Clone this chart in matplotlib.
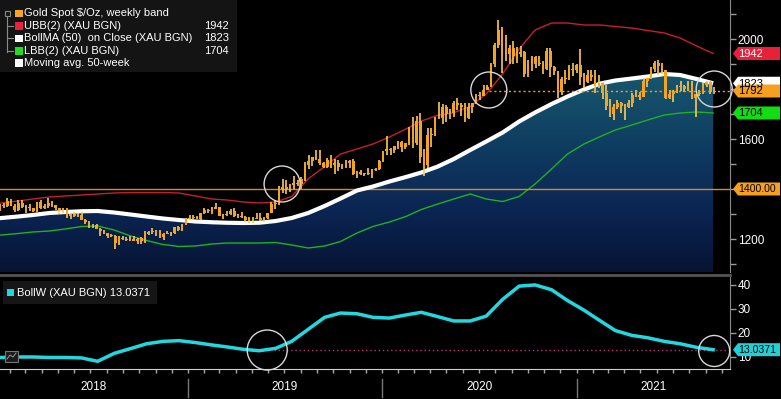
import numpy as np
import pandas as pd
import matplotlib
matplotlib.use('Agg')
import matplotlib.pyplot as plt
import matplotlib.dates as mdates
import matplotlib.transforms as mtrans
from matplotlib.colors import LinearSegmentedColormap
from matplotlib.patches import Polygon, Rectangle
from matplotlib.lines import Line2D

plt.rcParams['font.family'] = ['Liberation Sans', 'DejaVu Sans']

# Weekly gold spot bars (Friday dates), Jan 2018 - mid Sep 2021
first_open = 1322
close_2018 = [1338, 1332, 1352, 1333, 1316, 1346, 1330, 1323, 1324, 1314, 1347, 1325, 1332, 1345, 1336, 1323, 1315,
              1320, 1291, 1302, 1294, 1298, 1278, 1269, 1252, 1256, 1241, 1231, 1223, 1214, 1212, 1184, 1206, 1201,
              1197, 1194, 1199, 1192, 1203, 1222, 1227, 1233, 1233, 1209, 1222, 1223, 1223, 1248, 1238, 1257, 1281]
high_2018 = [1340, 1344, 1366, 1361, 1340, 1355, 1358, 1337, 1340, 1325, 1350, 1356, 1339, 1365, 1353, 1338, 1326,
             1326, 1325, 1306, 1307, 1303, 1309, 1282, 1272, 1262, 1259, 1245, 1236, 1226, 1221, 1215, 1214, 1214,
             1207, 1212, 1211, 1204, 1207, 1233, 1233, 1243, 1238, 1237, 1225, 1231, 1229, 1250, 1254, 1261, 1284]
low_2018 = [1313, 1326, 1328, 1331, 1307, 1312, 1323, 1303, 1313, 1307, 1310, 1321, 1321, 1326, 1330, 1316, 1302,
            1306, 1286, 1281, 1289, 1290, 1276, 1261, 1246, 1245, 1239, 1211, 1221, 1204, 1207, 1160, 1178, 1196,
            1191, 1191, 1193, 1180, 1182, 1184, 1218, 1221, 1211, 1206, 1196, 1220, 1213, 1221, 1233, 1233, 1256]

close_2019 = [1285, 1290, 1282, 1304, 1318, 1314, 1322, 1328, 1294, 1298, 1302, 1312, 1292, 1291, 1290, 1275, 1286,
              1281, 1286, 1277, 1284, 1305, 1341, 1341, 1400, 1409, 1399, 1415, 1426, 1419, 1440, 1497, 1513, 1527,
              1520, 1506, 1488, 1517, 1497, 1505, 1489, 1490, 1505, 1514, 1459, 1468, 1462, 1464, 1460, 1476, 1479, 1511]
high_2019 = [1298, 1295, 1294, 1305, 1326, 1319, 1327, 1346, 1330, 1299, 1311, 1320, 1324, 1300, 1310, 1292, 1288,
             1288, 1303, 1304, 1288, 1306, 1348, 1358, 1411, 1439, 1438, 1420, 1453, 1435, 1448, 1510, 1535, 1530,
             1555, 1557, 1510, 1523, 1535, 1519, 1517, 1502, 1518, 1516, 1519, 1474, 1477, 1464, 1484, 1480, 1485, 1515]
low_2019 = [1276, 1279, 1281, 1276, 1299, 1303, 1302, 1319, 1291, 1281, 1291, 1296, 1287, 1284, 1285, 1270, 1266,
            1266, 1279, 1273, 1270, 1280, 1303, 1320, 1336, 1383, 1382, 1387, 1400, 1411, 1400, 1434, 1480, 1491,
            1518, 1497, 1485, 1484, 1485, 1459, 1474, 1480, 1483, 1485, 1456, 1446, 1456, 1452, 1458, 1445, 1474, 1477]

close_2020 = [1552, 1562, 1557, 1571, 1589, 1570, 1584, 1643, 1585, 1674, 1530, 1498, 1617, 1620, 1683, 1683, 1727,
              1700, 1703, 1743, 1735, 1730, 1684, 1730, 1743, 1771, 1774, 1798, 1810, 1902, 1975, 2035, 1944, 1940,
              1964, 1934, 1940, 1950, 1862, 1900, 1930, 1899, 1902, 1879, 1951, 1889, 1871, 1788, 1839, 1840, 1882, 1877]
high_2020 = [1553, 1611, 1564, 1573, 1591, 1592, 1584, 1649, 1689, 1692, 1703, 1560, 1644, 1645, 1690, 1747, 1739,
             1738, 1722, 1751, 1765, 1745, 1745, 1745, 1745, 1779, 1789, 1818, 1815, 1906, 1984, 2075, 2049, 2015,
             1976, 1993, 1967, 1973, 1951, 1917, 1933, 1933, 1932, 1911, 1965, 1965, 1892, 1872, 1848, 1875, 1896, 1906]
low_2020 = [1508, 1536, 1536, 1546, 1562, 1548, 1561, 1577, 1563, 1576, 1504, 1451, 1484, 1567, 1611, 1680, 1659,
            1669, 1681, 1688, 1716, 1694, 1670, 1679, 1705, 1742, 1757, 1771, 1795, 1808, 1890, 1964, 1863, 1912,
            1902, 1902, 1906, 1928, 1849, 1848, 1873, 1883, 1891, 1860, 1875, 1850, 1855, 1765, 1775, 1820, 1836, 1854]

close_2021 = [1898, 1850, 1828, 1856, 1847, 1813, 1824, 1784, 1734, 1700, 1727, 1745, 1733, 1729, 1744, 1777, 1777,
              1769, 1831, 1844, 1881, 1905, 1891, 1877, 1764, 1781, 1787, 1808, 1812, 1802, 1814, 1763, 1780, 1781,
              1817, 1828, 1787, 1792]
high_2021 = [1900, 1959, 1863, 1875, 1875, 1875, 1855, 1827, 1816, 1760, 1740, 1755, 1750, 1740, 1758, 1785, 1798,
             1790, 1845, 1846, 1890, 1913, 1916, 1903, 1878, 1795, 1795, 1818, 1834, 1817, 1832, 1832, 1782, 1795,
             1823, 1834, 1834, 1808]
low_2021 = [1865, 1817, 1803, 1826, 1832, 1785, 1805, 1761, 1717, 1687, 1677, 1719, 1705, 1677, 1723, 1730, 1769,
            1756, 1768, 1808, 1841, 1870, 1856, 1861, 1761, 1761, 1750, 1783, 1794, 1789, 1792, 1759, 1687, 1771,
            1780, 1808, 1782, 1780]

# Bollinger bands / 50-week MA / band width, mid-month readings (Dec 2017 - Sep 2021)
ma50 = [1280, 1284, 1290, 1296, 1304, 1308, 1311, 1312, 1306, 1298, 1290, 1282, 1276,
        1270, 1267, 1265, 1264, 1265, 1272, 1284, 1304, 1332, 1362, 1394, 1410,
        1430, 1448, 1466, 1490, 1520, 1556, 1590, 1626, 1670, 1706, 1740, 1770,
        1798, 1822, 1834, 1842, 1850, 1860, 1856, 1840, 1823]
ubb = [1340, 1344, 1352, 1360, 1368, 1372, 1376, 1380, 1384, 1386, 1386, 1386, 1384,
       1372, 1360, 1356, 1348, 1344, 1348, 1370, 1440, 1490, 1540, 1560, 1580,
       1608, 1640, 1672, 1695, 1705, 1730, 1780, 1860, 1960, 2036, 2064, 2064,
       2056, 2056, 2050, 2044, 2034, 2024, 2004, 1972, 1942]
lbb = [1214, 1216, 1222, 1228, 1232, 1240, 1250, 1252, 1236, 1212, 1194, 1178, 1170,
       1172, 1180, 1184, 1184, 1184, 1186, 1176, 1164, 1172, 1190, 1224, 1250,
       1268, 1290, 1318, 1340, 1360, 1380, 1360, 1350, 1370, 1420, 1480, 1540,
       1580, 1610, 1636, 1656, 1676, 1696, 1704, 1708, 1704]
bollw = [9.8, 9.8, 10.0, 10.0, 9.8, 9.8, 9.6, 8.2, 11.5, 13.5, 15.5, 16.5, 16.8,
         16.0, 15.0, 14.2, 13.2, 12.6, 13.6, 16.5, 21.5, 26.5, 28.3, 28.0, 26.5,
         26.2, 27.5, 28.6, 26.8, 25.0, 25.0, 27.0, 34.0, 39.5, 40.0, 38.0, 33.5,
         29.5, 25.0, 21.0, 19.0, 18.0, 16.5, 15.5, 14.0, 13.0371]

level_1400 = 1400
last_price = 1792

closes = np.array(close_2018 + close_2019 + close_2020 + close_2021, dtype=float)
highs = np.array(high_2018 + high_2019 + high_2020 + high_2021, dtype=float)
lows = np.array(low_2018 + low_2019 + low_2020 + low_2021, dtype=float)
opens = np.concatenate([[first_open], closes[:-1]])
week_dates = pd.date_range('2018-01-12', periods=len(closes), freq='W-FRI')
band_dates = pd.date_range('2017-12-01', periods=len(ma50), freq='MS') + pd.Timedelta(days=14)

xw = mdates.date2num(week_dates)
xb = mdates.date2num(band_dates)

W, H = 781, 399
def fx(px):
    return px / W
def fy(py):
    return 1 - py / H

fig = plt.figure(figsize=(7.81, 3.99), dpi=100, facecolor='black')
ax = fig.add_axes([0, fy(272), fx(730), 272 / H])
ax2 = fig.add_axes([0, fy(369), fx(730), (369 - 277) / H], sharex=ax)

x_left = mdates.date2num(pd.Timestamp('2018-01-12 06:00'))
x_right = x_left + 1373.5
ybot, ytop = 1068, 2156

# gradient fill under the moving average
cmap = LinearSegmentedColormap.from_list('fill', [(0, '#071434'), (0.25, '#0a2350'), (0.5, '#0e365e'),
                                                  (0.75, '#134b68'), (1, '#1b5f70')])
grad = np.linspace(0, 1, 256).reshape(-1, 1)
im = ax.imshow(grad, extent=[xb[0], xb[-1], ybot, 1950], aspect='auto', cmap=cmap, origin='lower', zorder=1)
verts = list(zip(xb, ma50)) + [(xb[-1], ybot), (xb[0], ybot)]
clip = Polygon(verts, closed=True, transform=ax.transData, fc='none', ec='none')
ax.add_patch(clip)
im.set_clip_path(clip)

ax.plot(xb, lbb, color='#22b022', lw=1, zorder=2)
ax.plot(xb, ubb, color='#c4202c', lw=1, zorder=2)
ax.axhline(level_1400, color='#d98a1c', lw=1, zorder=2)
ax.plot(xb, ma50, color='white', lw=3, zorder=3, solid_capstyle='butt')

# weekly bars
body_lo = np.minimum(opens, closes)
body_h = np.maximum(np.abs(closes - opens), 4)
ax.vlines(xw, lows, highs, color='#ffc94d', lw=1.2, zorder=4)
ax.bar(xw, body_h, bottom=body_lo, width=5.0, color='#f4a51f', zorder=4)

# dotted last-price line and circles
c2_date = mdates.date2num(pd.Timestamp('2020-07-20'))
ax.hlines(last_price, c2_date, x_right, color='#f2a01e', lw=1, linestyles=(0, (1.5, 2)), zorder=5)
def circ(a, d, v, r):
    s = (2 * r * 72 / 100) ** 2
    a.scatter([mdates.date2num(pd.Timestamp(d))], [v], s=s, facecolors='none',
              edgecolors='#d8d8d8', linewidths=1, zorder=6, clip_on=False)
circ(ax, '2019-06-27', 1420, 18)
circ(ax, '2020-07-20', 1796, 18)
circ(ax, '2021-09-17', 1800, 18)

ax.set_xlim(x_left, x_right)
ax.set_ylim(ybot, ytop)
ax.set_yticks([1200, 1600, 2000])
ax.set_yticks([1100, 1300, 1400, 1500, 1700, 1800, 1900, 2100], minor=True)

# bottom panel: band width
ax2.plot(xb, bollw, color='#22d8e0', lw=2.5, zorder=3)
c4_date = mdates.date2num(pd.Timestamp('2019-06-12'))
ax2.hlines(bollw[-1], c4_date, x_right, color='#c0307a', lw=1, linestyles=(0, (1, 2)), zorder=2)
circ(ax2, '2019-05-30', 12.9, 20)
circ(ax2, '2021-09-17', 12.5, 15.5)
ax2.set_ylim(5, 43.3)
ax2.set_yticks([10, 20, 30, 40])

for a in (ax, ax2):
    a.set_facecolor('black')
    for s in ['left', 'top', 'bottom']:
        a.spines[s].set_visible(False)
    a.spines['right'].set_color('#8a8a8a')
    a.yaxis.tick_right()
    a.tick_params(axis='y', which='both', colors='#9a9a9a', labelcolor='white', labelsize=8.5,
                  length=4, width=1, pad=1.5, direction='out')
ax.tick_params(axis='x', which='both', bottom=False, labelbottom=False)
ax2.spines['bottom'].set_visible(True)
ax2.spines['bottom'].set_color('#cfcfcf')
ax2.xaxis.set_major_locator(mdates.MonthLocator())
ax2.xaxis.set_major_formatter(plt.NullFormatter())
ax2.tick_params(axis='x', colors='#aaaaaa', length=3, width=1, direction='out')

# year labels and separators
bt = mtrans.blended_transform_factory(ax2.transData, fig.transFigure)
for yr in [2018, 2019, 2020, 2021]:
    s = max(x_left, mdates.date2num(pd.Timestamp(f'{yr}-01-01')))
    e = min(x_right, mdates.date2num(pd.Timestamp(f'{yr + 1}-01-01')))
    ax2.text((s + e) / 2, fy(387), str(yr), transform=bt, color='white', fontsize=8.5,
             ha='center', va='center', clip_on=False)
    if yr > 2018:
        ax2.plot([s, s], [fy(379), fy(397)], transform=bt, color='#777777', lw=1, clip_on=False)

# panel separator
fig.add_artist(Line2D([0, fx(730)], [fy(275), fy(275)], color='#555555', lw=2, transform=fig.transFigure))

# right-hand value tags
def tag(a, value, text, fc, tc, x0=733, x1=780, h=13, size=8):
    yd = a.transData.transform((x_left, value))[1]
    y = H - yd
    pts = [(fx(x0), fy(y)), (fx(x0 + 5), fy(y - h / 2)), (fx(x1), fy(y - h / 2)),
           (fx(x1), fy(y + h / 2)), (fx(x0 + 5), fy(y + h / 2))]
    fig.add_artist(Polygon(pts, closed=True, transform=fig.transFigure, fc=fc, ec='none', zorder=20))
    fig.text(fx(x0 + 5.5), fy(y + 0.5), text, color=tc, fontsize=size, ha='left', va='center', zorder=21)

tag(ax, ubb[-1], f'{ubb[-1]:.0f}', '#e8203a', 'white')
tag(ax, ma50[-1], f'{ma50[-1]:.0f}', 'white', 'black')
tag(ax, last_price, f'{last_price:.0f}', '#f5a020', 'black')
tag(ax, lbb[-1], f'{lbb[-1]:.0f}', '#12dd12', 'black')
tag(ax, level_1400, f'{level_1400:.2f}', '#f5a020', 'black', size=7.6)
tag(ax2, bollw[-1], f'{bollw[-1]:.4f}', '#22d0d8', 'black', size=7.6)

# legend box (top-left)
fig.add_artist(Rectangle((0, fy(72)), fx(237), 72 / H, transform=fig.transFigure,
                         fc='#141414', ec='none', zorder=10))
rows = [('Gold Spot $/Oz, weekly band', '#f5a623', ''),
        ('UBB(2) (XAU BGN)', '#e8233c', f'{ubb[-1]:.0f}'),
        ('BollMA (50)  on Close (XAU BGN)', 'white', f'{ma50[-1]:.0f}'),
        ('LBB(2) (XAU BGN)', '#1ee01e', f'{lbb[-1]:.0f}'),
        ('Moving avg. 50-week', 'white', '')]
row_y = [13.3, 25.8, 38.3, 51.2, 63.0]
for (lab, col, val), yy in zip(rows, row_y):
    fig.add_artist(Rectangle((fx(15.5), fy(yy + 3.8)), fx(7.5), 7.5 / H, transform=fig.transFigure,
                             fc=col, ec='none', zorder=11))
    fig.text(fx(24.5), fy(yy), lab, color='white', fontsize=8, ha='left', va='center', zorder=12)
    if val:
        fig.text(fx(229), fy(yy), val, color='white', fontsize=8, ha='right', va='center', zorder=12)
fig.add_artist(Line2D([fx(7), fx(7)], [fy(14), fy(51.5)], color='#8a8a8a', lw=0.8,
                      transform=fig.transFigure, zorder=11))
for yy in row_y[1:4]:
    fig.add_artist(Line2D([fx(7), fx(13)], [fy(yy), fy(yy)], color='#8a8a8a', lw=0.8,
                          transform=fig.transFigure, zorder=11))
fig.add_artist(Rectangle((fx(4.5), fy(15.5)), fx(5), 5 / H, transform=fig.transFigure,
                         fc='#141414', ec='#8a8a8a', lw=0.8, zorder=12))

# bottom legend
fig.add_artist(Rectangle((fx(3), fy(304)), fx(154), 23 / H, transform=fig.transFigure,
                         fc='#161616', ec='none', zorder=10))
fig.add_artist(Rectangle((fx(7.5), fy(296)), fx(7), 7 / H, transform=fig.transFigure,
                         fc='#22d8e0', ec='none', zorder=11))
fig.text(fx(17), fy(292.5), f'BollW (XAU BGN) {bollw[-1]:.4f}', color='white', fontsize=8,
         ha='left', va='center', zorder=12)

# small chart icon bottom-left
fig.add_artist(Rectangle((fx(5), fy(362)), fx(13), 11 / H, transform=fig.transFigure,
                         fc='#1a1a1a', ec='#777777', lw=0.8, zorder=11))
fig.add_artist(Line2D([fx(7), fx(10), fx(13), fx(16)], [fy(359), fy(355), fy(357), fy(353)],
                      color='#999999', lw=0.7, transform=fig.transFigure, zorder=12))

fig.savefig('out.png', dpi=100, facecolor='black')
